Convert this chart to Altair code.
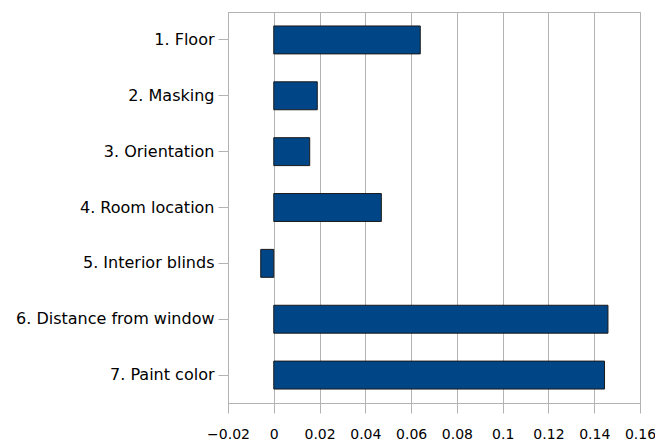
import altair as alt
import pandas as pd

categories = ["1. Floor", "2. Masking", "3. Orientation", "4. Room location",
              "5. Interior blinds", "6. Distance from window", "7. Paint color"]
values = [0.064, 0.019, 0.0157, 0.047, -0.0057, 0.146, 0.1445]
x_ticks = [-0.02, 0, 0.02, 0.04, 0.06, 0.08, 0.1, 0.12, 0.14, 0.16]

df = pd.DataFrame({"factor": categories, "value": values})

gray = "#b3b3b3"

chart = alt.Chart(df).mark_bar(
    color="#004586", stroke="#1a1a1a", strokeWidth=1
).encode(
    y=alt.Y("factor:N", sort=categories, title=None,
            scale=alt.Scale(paddingInner=0.5, paddingOuter=0.25),
            axis=alt.Axis(labelFont="DejaVu Sans", labelFontSize=16, labelColor="#000000",
                          tickSize=10, tickColor=gray, domainColor=gray,
                          labelPadding=4, grid=False, labelLimit=300)),
    x=alt.X("value:Q", title=None,
            scale=alt.Scale(domain=[-0.02, 0.16], nice=False, zero=False),
            axis=alt.Axis(values=x_ticks, format="~g", labelFont="DejaVu Sans",
                          labelFontSize=14, labelColor="#000000",
                          tickSize=10, tickColor=gray, domainColor=gray,
                          gridColor=gray, gridWidth=1, grid=True,
                          labelPadding=14, labelFlush=False))
).properties(
    width=412, height=391,
    autosize=alt.AutoSizeParams(type="none"),
    padding={"left": 220, "top": 4, "right": 15, "bottom": 40}
).configure_view(
    stroke=gray, strokeWidth=1
)

chart.save("out.html", embed_options={"renderer": "svg", "actions": False})
